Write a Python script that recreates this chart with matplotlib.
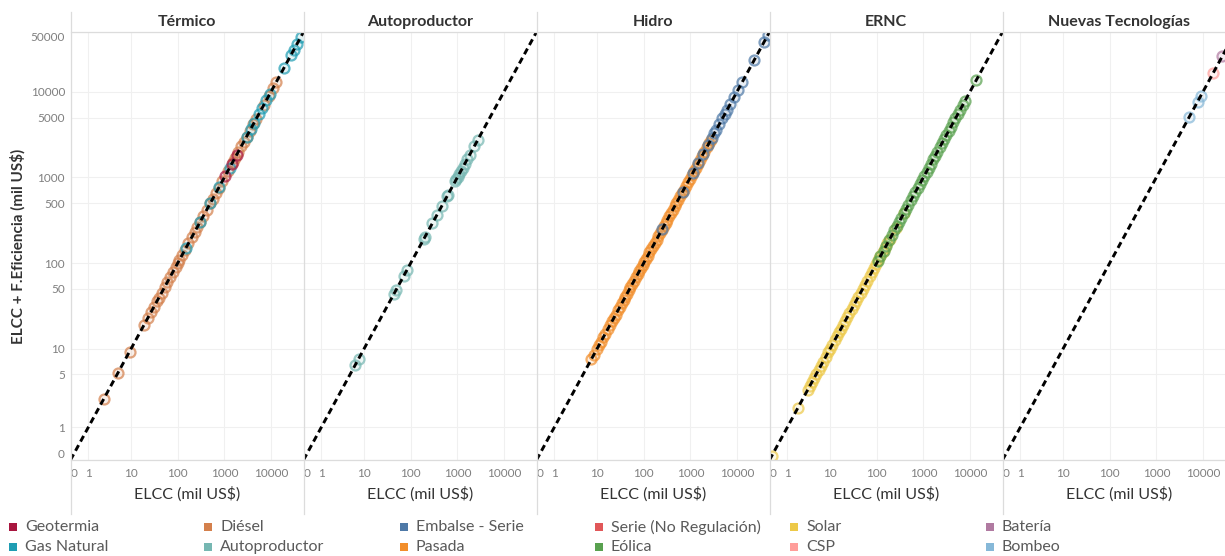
import matplotlib.pyplot as plt
from matplotlib.ticker import NullLocator
from matplotlib.lines import Line2D
from matplotlib.colors import to_rgba

plt.rcParams['font.family'] = ['Lato', 'DejaVu Sans']

# ELCC (mil US$) per technology; ELCC + F.Eficiencia lies on the 1:1 line
geotermia = [1050, 1450, 1850]
diesel = [2.5, 5.1, 9.2, 19, 23, 27, 31, 36, 39, 45, 53, 60, 69, 78, 90, 100, 108,
          125, 142, 170, 200, 230, 265, 300, 350, 420, 500, 560, 660, 760, 900,
          1200, 1500, 1700, 2000, 2300, 2600, 3000, 3500, 4200, 4800, 7000, 9000,
          11000, 13100]
gas_natural = [150, 300, 500, 780, 1300, 3000, 3700, 4300, 5500, 6500, 8000, 9500,
               18800, 26900, 30800, 36000, 44000]
autoproductor = [6.4, 7.6, 44, 48, 70, 82, 190, 200, 290, 360, 470, 600, 620, 900,
                 950, 1020, 1100, 1200, 1300, 1450, 1650, 1850, 2300, 2750]
embalse = [250, 680, 1120, 1460, 1900, 2400, 2900, 3300, 3600, 4200, 4900, 5500,
           6100, 7200, 8800, 10500, 13100, 23500, 38500, 46000]
pasada = [7.5, 8.5, 10, 11, 12, 13.5, 15, 17, 19, 21, 23, 25, 28, 31, 34, 37, 40,
          44, 48, 52, 57, 62, 68, 74, 80, 88, 95, 103, 112, 122, 133, 145, 158, 172,
          188, 205, 225, 245, 270, 295, 320, 350, 385, 420, 460, 500, 550, 600, 660,
          720, 800, 880, 970, 1070, 1180, 1300, 1450, 1600, 1800, 2000, 2250, 2500,
          2750]
solar = [0.1, 1.9, 3.2, 3.6, 4, 4.5, 5, 5.6, 6.3, 7, 8, 9, 10, 11, 12.5, 14, 15.5,
         17, 19, 21, 23.5, 26, 29, 32, 36, 40, 45, 50, 56, 62, 70, 78, 87, 97, 108,
         120, 135, 150, 170, 190, 260, 380]
eolica = [105, 120, 140, 160, 185, 210, 240, 270, 300, 340, 380, 430, 480, 540, 600,
          670, 750, 840, 940, 1050, 1170, 1300, 1450, 1620, 1800, 2000, 2250, 2500,
          2800, 3100, 3500, 3900, 4400, 4900, 5500, 6200, 7000, 7800, 13800]
bombeo = [5100, 7700, 8900]
csp = [16700]
bateria = [26200]
serie_nr = []

series = {
    'Geotermia': (geotermia, '#a8163f'),
    'Gas Natural': (gas_natural, '#1f9db3'),
    'Diésel': (diesel, '#d4804c'),
    'Autoproductor': (autoproductor, '#76b7b2'),
    'Embalse - Serie': (embalse, '#4e79a7'),
    'Pasada': (pasada, '#f28e2b'),
    'Serie (No Regulación)': (serie_nr, '#e15759'),
    'Eólica': (eolica, '#59a14f'),
    'Solar': (solar, '#edc948'),
    'CSP': (csp, '#ff9d9a'),
    'Batería': (bateria, '#b07aa1'),
    'Bombeo': (bombeo, '#86b8d8'),
}

panels = [
    ('Térmico', ['Diésel', 'Gas Natural', 'Geotermia']),
    ('Autoproductor', ['Autoproductor']),
    ('Hidro', ['Pasada', 'Serie (No Regulación)', 'Embalse - Serie']),
    ('ERNC', ['Solar', 'Eólica']),
    ('Nuevas Tecnologías', ['Bombeo', 'CSP', 'Batería']),
]

y_ticks = [0, 1, 5, 10, 50, 100, 500, 1000, 5000, 10000, 50000]
x_ticks = [0, 1, 10, 100, 1000, 10000]
lim = (0, 50000)

W, H = 1225, 556
fig = plt.figure(figsize=(W / 100, H / 100), dpi=100)
fig.patch.set_facecolor('white')


def fx(p):
    return p / W


def fy(p):
    return 1 - p / H


left0, pw, top, bottom = 70.5, 233, 32, 460
grid_c = '#f0f0f0'
line_c = '#dcdcdc'

for i, (title, names) in enumerate(panels):
    x0 = left0 + i * pw
    ax = fig.add_axes([fx(x0), fy(bottom), pw / W, (bottom - top) / H])
    ax.set_xscale('asinh', linear_width=1)
    ax.set_yscale('asinh', linear_width=1)
    ax.set_xlim(lim)
    ax.set_ylim(lim)
    for n in names:
        vals, c = series[n]
        ax.scatter(vals, vals, s=52, facecolors=[to_rgba(c, 0.12)],
                   edgecolors=[to_rgba(c, 0.7)], linewidths=1.6, zorder=3)
    ax.plot(lim, lim, color='black', lw=2.1, dashes=(2.2, 1.4), zorder=5)

    ax.set_xticks(x_ticks, labels=[str(t) for t in x_ticks])
    ax.set_yticks(y_ticks, labels=[str(t) for t in y_ticks])
    ax.xaxis.set_minor_locator(NullLocator())
    ax.yaxis.set_minor_locator(NullLocator())
    ax.tick_params(length=0, labelsize=8.5, labelcolor='#7f7f7f')
    ax.tick_params(axis='x', pad=6)
    ax.tick_params(axis='y', pad=4)
    if i > 0:
        ax.tick_params(axis='y', labelleft=False)
    else:
        yt = ax.yaxis.get_major_ticks()
        yt[0].label1.set_verticalalignment('bottom')
        yt[-1].label1.set_verticalalignment('top')
    xt = ax.xaxis.get_major_ticks()
    xt[0].label1.set_horizontalalignment('left')
    ax.grid(True, color=grid_c, lw=0.8)
    ax.set_axisbelow(True)
    for s in ax.spines.values():
        s.set_visible(False)

    fig.text(fx(x0 + pw / 2), fy(22), title, ha='center', va='center',
             fontsize=11.5, fontweight='bold', color='#333333')
    fig.text(fx(x0 + pw / 2), fy(494), 'ELCC (mil US$)', ha='center', va='center',
             fontsize=11.5, color='#333333')
    fig.add_artist(Line2D([fx(x0), fx(x0)], [fy(12), fy(514)], color=line_c, lw=0.9))

fig.add_artist(Line2D([fx(left0), 1], [fy(top), fy(top)], color=line_c, lw=0.9))
fig.add_artist(Line2D([fx(left0), 1], [fy(bottom), fy(bottom)], color=line_c, lw=0.9))

fig.text(fx(18), fy((top + bottom) / 2), 'ELCC + F.Eficiencia (mil US$)', rotation=90,
         ha='center', va='center', fontsize=11, fontweight='bold', color='#333333')

# legend: two rows, six columns
leg = fig.add_axes([0, 0, 1, 1])
leg.set_xlim(0, W)
leg.set_ylim(H, 0)
leg.axis('off')
for k, name in enumerate(series):
    col, row = k // 2, k % 2
    lx = 13 + col * 195.3
    ly = 527 + row * 20
    leg.scatter([lx], [ly], marker='s', s=34, color=series[name][1], lw=0)
    leg.text(lx + 12, ly, name, ha='left', va='center', fontsize=11.5, color='#5a5a5a')

fig.savefig('out.png', dpi=100)
